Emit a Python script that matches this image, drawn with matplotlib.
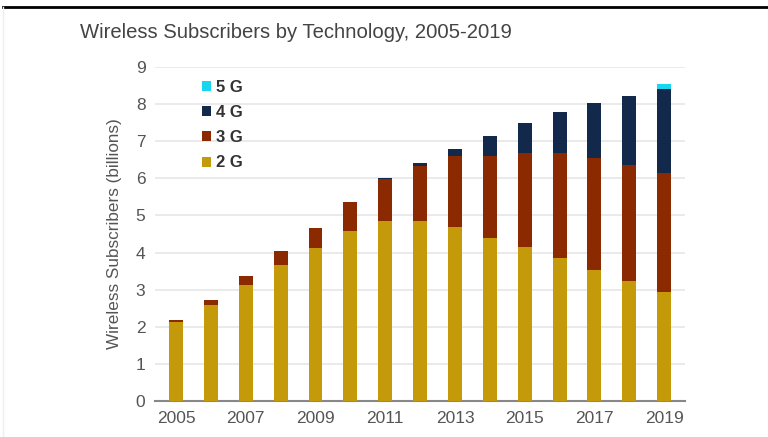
import matplotlib.pyplot as plt
import numpy as np

plt.rcParams['font.family'] = ['Liberation Sans', 'DejaVu Sans']

# Data (billions of subscribers)
years = list(range(2005, 2020))
g2 = [2.12, 2.59, 3.13, 3.66, 4.11, 4.59, 4.86, 4.85, 4.68, 4.38, 4.14, 3.85, 3.54, 3.24, 2.94]
g3 = [0.07, 0.12, 0.23, 0.38, 0.55, 0.78, 1.12, 1.48, 1.91, 2.22, 2.53, 2.82, 3.02, 3.12, 3.20]
g4 = [0, 0, 0, 0, 0, 0, 0.02, 0.07, 0.21, 0.53, 0.81, 1.11, 1.46, 1.86, 2.28]
g5 = [0, 0, 0, 0, 0, 0, 0, 0, 0, 0, 0, 0, 0, 0, 0.12]
series = ['2 G', '3 G', '4 G', '5 G']
colors = ['#C49A0B', '#8B2A00', '#13294B', '#19D6F0']

fig = plt.figure(figsize=(7.68, 4.37), dpi=100)
ax = fig.add_axes([0.202, 0.0824, 0.69, 0.7643])

bottom = np.zeros(len(years))
for name, vals, c in zip(series, [g2, g3, g4, g5], colors):
    ax.bar(years, vals, width=0.4, bottom=bottom, color=c, label=name, zorder=3)
    bottom += np.array(vals)

ax.set_ylim(0, 9)
ax.set_xlim(2004.4, 2019.6)
ax.set_yticks(range(0, 10))
ax.set_xticks(range(2005, 2020, 2))
ax.grid(axis='y', color='#e6e6e6', linewidth=1.2, zorder=0)
for s in ['top', 'right', 'left']:
    ax.spines[s].set_visible(False)
ax.spines['bottom'].set_color('#888888')
ax.spines['bottom'].set_linewidth(1.5)
ax.tick_params(length=0, labelsize=12.5, labelcolor='#555555', pad=7)
ax.set_ylabel('Wireless Subscribers (billions)', fontsize=12.3, color='#555555', labelpad=10)

h, l = ax.get_legend_handles_labels()
leg = ax.legend(h[::-1], l[::-1], loc='upper left', bbox_to_anchor=(0.06, 1.006),
                frameon=False, handlelength=0.55, handleheight=0.55, handletextpad=0.3,
                labelspacing=0.61, prop={'size': 12, 'weight': 'bold'})
for t in leg.get_texts():
    t.set_color('#333333')

fig.text(0.104, 0.925, 'Wireless Subscribers by Technology, 2005-2019', fontsize=14.6,
         color='#444444', va='center')

# frame lines of the screenshot
fig.add_artist(plt.Line2D([0.004, 1], [0.983, 0.983], color='black', linewidth=2))
fig.add_artist(plt.Line2D([0.004, 0.004], [0, 0.983], color='#eeeeee', linewidth=1))

fig.savefig('out.png', dpi=100)
